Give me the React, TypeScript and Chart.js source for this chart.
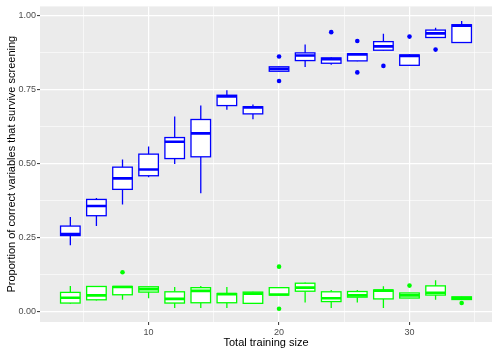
import React, { useEffect, useRef } from "react";
import { Chart, registerables } from "chart.js";

Chart.register(...registerables);

// ---- Data ----
const trainingSize = [4, 6, 8, 10, 12, 14, 16, 18, 20, 22, 24, 26, 28, 30, 32, 34];

const blueLower = [0.224, 0.289, 0.362, 0.454, 0.499, 0.400, 0.682, 0.650, 0.810, 0.826, 0.834, 0.846, 0.881, 0.830, 0.925, 0.907];
const blueQ1 = [0.257, 0.324, 0.413, 0.459, 0.517, 0.523, 0.696, 0.668, 0.812, 0.848, 0.839, 0.847, 0.883, 0.832, 0.926, 0.909];
const blueMedian = [0.262, 0.357, 0.450, 0.480, 0.574, 0.602, 0.727, 0.690, 0.820, 0.865, 0.853, 0.869, 0.896, 0.864, 0.940, 0.966];
const blueQ3 = [0.289, 0.379, 0.488, 0.532, 0.588, 0.649, 0.731, 0.692, 0.827, 0.874, 0.857, 0.871, 0.912, 0.867, 0.951, 0.969];
const blueUpper = [0.320, 0.384, 0.514, 0.558, 0.659, 0.696, 0.748, 0.700, 0.829, 0.902, 0.859, 0.873, 0.939, 0.869, 0.959, 0.982];
const blueOutlierX = [20, 20, 24, 26, 26, 28, 30, 32];
const blueOutlierY = [0.862, 0.779, 0.944, 0.914, 0.808, 0.830, 0.929, 0.885];

const greenLower = [0.027, 0.038, 0.040, 0.045, 0.012, 0.012, 0.012, 0.026, 0.055, 0.031, 0.012, 0.031, 0.012, 0.045, 0.040, 0.040];
const greenQ1 = [0.029, 0.040, 0.057, 0.066, 0.029, 0.030, 0.030, 0.028, 0.056, 0.069, 0.034, 0.049, 0.043, 0.046, 0.056, 0.041];
const greenMedian = [0.047, 0.055, 0.083, 0.076, 0.043, 0.070, 0.059, 0.061, 0.058, 0.081, 0.045, 0.055, 0.071, 0.055, 0.064, 0.046];
const greenQ3 = [0.065, 0.085, 0.085, 0.084, 0.067, 0.081, 0.061, 0.066, 0.081, 0.096, 0.067, 0.068, 0.073, 0.063, 0.087, 0.050];
const greenUpper = [0.087, 0.087, 0.086, 0.085, 0.083, 0.087, 0.083, 0.067, 0.083, 0.098, 0.073, 0.073, 0.086, 0.064, 0.106, 0.051];
const greenOutlierX = [8, 20, 20, 30, 34];
const greenOutlierY = [0.133, 0.152, 0.010, 0.088, 0.029];

const xTicks = [5, 10, 15, 20, 25, 30, 35];
const yTicks = [0, 0.125, 0.25, 0.375, 0.5, 0.625, 0.75, 0.875, 1];

const BLUE = "#0000FF";
const GREEN = "#00FF00";
const FONT = "'Liberation Sans', Arial, Helvetica, sans-serif";

type BoxSeries = {
  color: string;
  lower: number[];
  q1: number[];
  median: number[];
  q3: number[];
  upper: number[];
};

const boxSeries: BoxSeries[] = [
  { color: GREEN, lower: greenLower, q1: greenQ1, median: greenMedian, q3: greenQ3, upper: greenUpper },
  { color: BLUE, lower: blueLower, q1: blueQ1, median: blueMedian, q3: blueQ3, upper: blueUpper },
];

const panelPlugin = {
  id: "panelBg",
  beforeDraw(chart: any) {
    const { ctx, chartArea } = chart;
    ctx.save();
    ctx.fillStyle = "#FFFFFF";
    ctx.fillRect(0, 0, chart.width, chart.height);
    ctx.fillStyle = "#EBEBEB";
    ctx.fillRect(chartArea.left, chartArea.top, chartArea.right - chartArea.left, chartArea.bottom - chartArea.top);
    ctx.restore();
  },
};

const boxPlugin = {
  id: "boxes",
  beforeDatasetsDraw(chart: any) {
    const { ctx, chartArea } = chart;
    const xs = chart.scales.x;
    const ys = chart.scales.y;
    ctx.save();
    ctx.beginPath();
    ctx.rect(chartArea.left, chartArea.top, chartArea.right - chartArea.left, chartArea.bottom - chartArea.top);
    ctx.clip();
    const halfW = 0.75;
    for (const s of boxSeries) {
      trainingSize.forEach((x, i) => {
        const cx = xs.getPixelForValue(x);
        const l = xs.getPixelForValue(x - halfW);
        const r = xs.getPixelForValue(x + halfW);
        const yLo = ys.getPixelForValue(s.lower[i]);
        const yQ1 = ys.getPixelForValue(s.q1[i]);
        const yMed = ys.getPixelForValue(s.median[i]);
        const yQ3 = ys.getPixelForValue(s.q3[i]);
        const yHi = ys.getPixelForValue(s.upper[i]);
        ctx.strokeStyle = s.color;
        ctx.lineWidth = 1.3;
        // whiskers
        ctx.beginPath();
        ctx.moveTo(cx, yQ3);
        ctx.lineTo(cx, yHi);
        ctx.moveTo(cx, yQ1);
        ctx.lineTo(cx, yLo);
        ctx.stroke();
        // box
        ctx.fillStyle = "#FFFFFF";
        ctx.fillRect(l, yQ3, r - l, yQ1 - yQ3);
        ctx.strokeRect(l, yQ3, r - l, yQ1 - yQ3);
        // median
        ctx.lineWidth = 2.6;
        ctx.beginPath();
        ctx.moveTo(l, yMed);
        ctx.lineTo(r, yMed);
        ctx.stroke();
      });
    }
    ctx.restore();
  },
};

export default function App() {
  const canvasRef = useRef<HTMLCanvasElement | null>(null);

  useEffect(() => {
    const canvas = canvasRef.current;
    if (!canvas) return;
    const isMajorX = (v: number) => Math.abs(v % 10) < 1e-9;
    const isMajorY = (v: number) => Math.abs((v * 4) - Math.round(v * 4)) < 1e-9;

    const chart = new Chart(canvas, {
      type: "scatter",
      data: {
        datasets: [
          {
            label: "green outliers",
            data: greenOutlierX.map((x, i) => ({ x, y: greenOutlierY[i] })),
            backgroundColor: GREEN,
            borderColor: GREEN,
            pointRadius: 2.3,
            borderWidth: 0,
          },
          {
            label: "blue outliers",
            data: blueOutlierX.map((x, i) => ({ x, y: blueOutlierY[i] })),
            backgroundColor: BLUE,
            borderColor: BLUE,
            pointRadius: 2.3,
            borderWidth: 0,
          },
        ],
      },
      options: {
        animation: false,
        responsive: false,
        devicePixelRatio: 1,
        layout: { padding: { top: 5, right: 6, left: 0, bottom: 0 } },
        plugins: {
          legend: { display: false },
          tooltip: { enabled: false },
        },
        scales: {
          x: {
            type: "linear",
            min: 1.675,
            max: 36.325,
            afterBuildTicks: (scale: any) => {
              scale.ticks = xTicks.map((v) => ({ value: v }));
            },
            afterFit: (scale: any) => {
              scale.height = 33;
            },
            border: { display: false },
            grid: {
              color: "#FFFFFF",
              lineWidth: (c: any) => (c.tick && isMajorX(c.tick.value) ? 1.2 : 0.6),
              tickColor: (c: any) => (c.tick && isMajorX(c.tick.value) ? "#333333" : "rgba(0,0,0,0)"),
              tickLength: 3,
              tickWidth: 1,
            },
            ticks: {
              autoSkip: false,
              maxRotation: 0,
              padding: 2,
              color: "#4D4D4D",
              font: { family: FONT, size: 9 },
              callback: (v: any) => (isMajorX(Number(v)) ? String(v) : ""),
            },
            title: {
              display: true,
              text: "Total training size",
              color: "#000000",
              font: { family: FONT, size: 11 },
              padding: { top: 0, bottom: 5.4 },
            },
          },
          y: {
            type: "linear",
            min: -0.035,
            max: 1.031,
            afterBuildTicks: (scale: any) => {
              scale.ticks = yTicks.map((v) => ({ value: v }));
            },
            afterFit: (scale: any) => {
              scale.width = 40;
            },
            border: { display: false },
            grid: {
              color: "#FFFFFF",
              lineWidth: (c: any) => (c.tick && isMajorY(c.tick.value) ? 1.2 : 0.6),
              tickColor: (c: any) => (c.tick && isMajorY(c.tick.value) ? "#333333" : "rgba(0,0,0,0)"),
              tickLength: 3,
              tickWidth: 1,
            },
            ticks: {
              autoSkip: false,
              padding: 1,
              color: "#4D4D4D",
              font: { family: FONT, size: 9 },
              callback: (v: any) => (isMajorY(Number(v)) ? Number(v).toFixed(2) : ""),
            },
            title: {
              display: true,
              text: "Proportion of correct variables that survive screening",
              color: "#000000",
              font: { family: FONT, size: 11 },
              padding: { top: 5.4, bottom: 0 },
            },
          },
        },
      },
      plugins: [panelPlugin, boxPlugin],
    } as any);

    return () => {
      chart.destroy();
    };
  }, []);

  return (
    <div style={{ position: "fixed", left: 0, top: 0, width: 498, height: 355, background: "#FFFFFF" }}>
      <canvas ref={canvasRef} width={498} height={355} style={{ display: "block", width: 498, height: 355 }} />
    </div>
  );
}
